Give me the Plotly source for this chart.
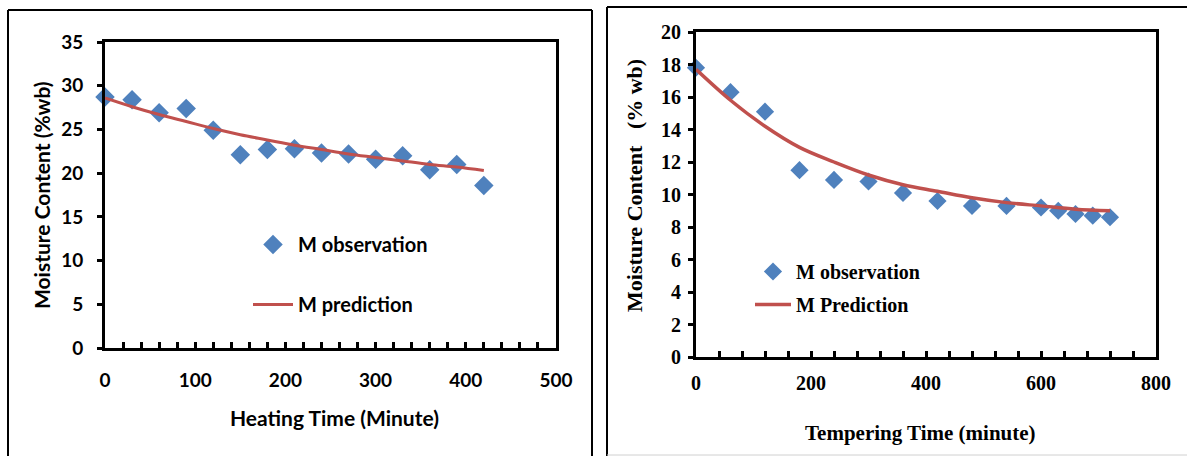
import plotly.graph_objects as go

# ---------------- data ----------------
heat_time = [0, 30, 60, 90, 120, 150, 180, 210, 240, 270, 300, 330, 360, 390, 420]
heat_obs = [28.7, 28.4, 26.9, 27.4, 24.9, 22.1, 22.7, 22.8, 22.3, 22.2, 21.6, 22.0, 20.4, 21.0, 18.6]
heat_pred = [28.6, 27.6, 26.7, 25.9, 25.1, 24.4, 23.8, 23.2, 22.7, 22.2, 21.8, 21.4, 21.0, 20.7, 20.3]

temp_time = [0, 60, 120, 180, 240, 300, 360, 420, 480, 540, 600, 630, 660, 690, 720]
temp_obs = [17.8, 16.3, 15.1, 11.5, 10.9, 10.8, 10.1, 9.6, 9.3, 9.3, 9.2, 9.0, 8.8, 8.7, 8.6]
temp_pred_time = [0, 60, 120, 180, 240, 300, 360, 420, 480, 540, 600, 660, 720]
temp_pred = [17.7, 15.8, 14.2, 12.9, 12.0, 11.2, 10.6, 10.2, 9.8, 9.5, 9.3, 9.1, 9.0]

left_xticks = [0, 100, 200, 300, 400, 500]
left_yticks = [0, 5, 10, 15, 20, 25, 30, 35]
right_xticks = [0, 200, 400, 600, 800]
right_yticks = [0, 2, 4, 6, 8, 10, 12, 14, 16, 18, 20]

W, H = 1187, 456
def px(x):
    return x / W
def py(y):
    return 1 - y / H

BLUE = "#4F81BD"
RED = "#C0504D"
SANS = "Lato"
SERIF = "Liberation Serif"

fig = go.Figure()

fig.add_trace(go.Scatter(x=heat_time, y=heat_obs, mode="markers", name="M observation",
                         marker=dict(symbol="diamond", size=15, color=BLUE),
                         legend="legend", legendgroup="a", cliponaxis=False,
                         xaxis="x", yaxis="y"))
fig.add_trace(go.Scatter(x=heat_time, y=heat_pred, mode="lines", name="M prediction",
                         line=dict(color=RED, width=3, shape="spline"),
                         legend="legend", legendgroup="b", cliponaxis=False,
                         xaxis="x", yaxis="y"))
fig.add_trace(go.Scatter(x=temp_time, y=temp_obs, mode="markers", name="M observation",
                         marker=dict(symbol="diamond", size=14, color=BLUE),
                         legend="legend2", legendgroup="c", cliponaxis=False,
                         xaxis="x2", yaxis="y2"))
fig.add_trace(go.Scatter(x=temp_pred_time, y=temp_pred, mode="lines", name="M Prediction",
                         line=dict(color=RED, width=3.5, shape="spline"),
                         legend="legend2", legendgroup="d", cliponaxis=False,
                         xaxis="x2", yaxis="y2"))

sans_tick = dict(family=SANS, size=19, color="black", weight="bold")
serif_tick = dict(family=SERIF, size=20, color="black", weight="bold")

common = dict(showline=True, linecolor="black", linewidth=3, mirror=True,
              showgrid=False, zeroline=False, automargin=False, tickcolor="black")

fig.update_layout(
    width=W, height=H,
    margin=dict(l=0, r=0, t=0, b=0, autoexpand=False),
    paper_bgcolor="white", plot_bgcolor="white",
    showlegend=True,
    xaxis=dict(domain=[px(105), px(556)], range=[0, 500], tickvals=left_xticks,
               ticks="inside", ticklen=6, tickwidth=3,
               minor=dict(ticks="inside", dtick=20, ticklen=6, tickwidth=3, tickcolor="black"),
               ticklabelstandoff=13, tickfont=sans_tick, anchor="y", **common),
    yaxis=dict(domain=[py(348), py(42)], range=[0, 35], tickvals=left_yticks,
               ticks="outside", ticklen=5, tickwidth=3,
               ticklabelstandoff=10, tickfont=sans_tick, anchor="x", **common),
    xaxis2=dict(domain=[px(696), px(1156)], range=[0, 800], tickvals=right_xticks,
                ticks="inside", ticklen=6, tickwidth=3,
                minor=dict(ticks="inside", dtick=40, ticklen=6, tickwidth=3, tickcolor="black"),
                ticklabelstandoff=6, tickfont=serif_tick, anchor="y2", **common),
    yaxis2=dict(domain=[py(357), py(32)], range=[0, 20], tickvals=right_yticks,
                ticks="outside", ticklen=5, tickwidth=3,
                ticklabelstandoff=3, tickfont=serif_tick, anchor="x2", **common),
    legend=dict(x=px(248), y=py(225), xanchor="left", yanchor="top",
                bgcolor="rgba(0,0,0,0)", tracegroupgap=31, itemwidth=40,
                traceorder="grouped",
                font=dict(family=SANS, size=20, color="black", weight="bold")),
    legend2=dict(x=px(750), y=py(252), xanchor="left", yanchor="top",
                 bgcolor="rgba(0,0,0,0)", tracegroupgap=4, itemwidth=36,
                 traceorder="grouped",
                 font=dict(family=SERIF, size=20, color="black", weight="bold")),
)

# axis titles as annotations
ann = dict(xref="paper", yref="paper", showarrow=False, xanchor="center", yanchor="middle")
fig.add_annotation(x=px(334), y=py(417), text="Heating Time (Minute)",
                   font=dict(family=SANS, size=21, color="black", weight="bold"), **ann)
fig.add_annotation(x=px(42), y=py(195), text="Moisture Content (%wb)", textangle=-90,
                   font=dict(family=SANS, size=21, color="black", weight="bold"), **ann)
fig.add_annotation(x=px(920), y=py(433), text="Tempering Time (minute)",
                   font=dict(family=SERIF, size=21, color="black", weight="bold"), **ann)
fig.add_annotation(x=px(634), y=py(186), text="Moisture Content   (% wb)", textangle=-90,
                   font=dict(family=SERIF, size=22, color="black", weight="bold"), **ann)

# panel borders
border = dict(color="black", width=2)
for x0, y0, x1, y1 in [(8, 470, 8, 10), (8, 10, 592, 10), (592, 10, 592, 470),
                       (607, 470, 607, 7), (607, 7, 1200, 7)]:
    fig.add_shape(type="line", xref="paper", yref="paper",
                  x0=px(x0), y0=py(y0), x1=px(x1), y1=py(y1), line=border)
fig.add_shape(type="line", xref="paper", yref="paper",
              x0=px(607), y0=py(455), x1=px(1200), y1=py(455),
              line=dict(color="#d0d0d0", width=1))

fig.write_html("out.html", config={"displayModeBar": False},
               post_script="document.body.style.margin='0';document.body.style.overflow='hidden';")
